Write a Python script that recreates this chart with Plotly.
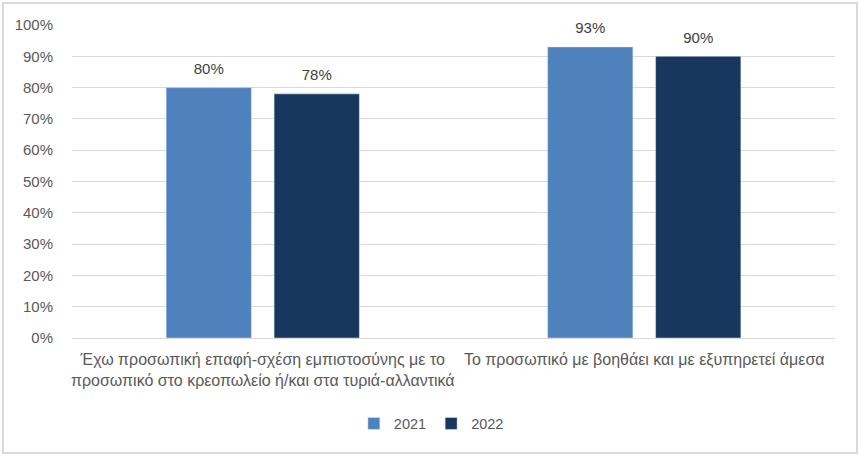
import plotly.graph_objects as go

categories = [
    "Έχω προσωπική επαφή-σχέση εμπιστοσύνης με το<br>προσωπικό στο κρεοπωλείο ή/και στα τυριά-αλλαντικά",
    "Το προσωπικό με βοηθάει και με εξυπηρετεί άμεσα",
]
series_names = ["2021", "2022"]
values_2021 = [0.80, 0.93]
values_2022 = [0.78, 0.90]
colors = ["#4F81BD", "#17375E"]

FONT = "Liberation Sans, Arial, sans-serif"
TXT = "#595959"
BARGAP = 0.434

fig = go.Figure()
for name, vals, col in zip(series_names, [values_2021, values_2022], colors):
    fig.add_trace(go.Bar(
        x=categories, y=vals, name=name, marker_color=col,
        offsetgroup=name,
    ))
for name, vals in zip(series_names, [values_2021, values_2022]):
    fig.add_trace(go.Scatter(
        x=categories, y=vals, mode="markers+text", showlegend=False, hoverinfo="skip",
        text=[f"{v:.0%}" for v in vals], textposition="top center",
        textfont=dict(family=FONT, size=15, color="#404040"),
        marker=dict(size=14, opacity=0), offsetgroup=name, cliponaxis=False,
    ))

fig.update_layout(
    width=860, height=456,
    margin=dict(l=72, r=25, t=25, b=118),
    paper_bgcolor="white", plot_bgcolor="white",
    barmode="group", bargap=BARGAP, bargroupgap=0.21,
    scattermode="group", scattergap=BARGAP,
    font=dict(family=FONT, size=15, color=TXT),
    legend=dict(orientation="h", x=0.471, xanchor="center", y=-0.222, yanchor="top",
                font=dict(family=FONT, size=14.5, color=TXT),
                itemwidth=30, traceorder="normal"),
    xaxis=dict(showline=False, ticks="", ticklabelstandoff=10,
               tickfont=dict(family=FONT, size=16, color=TXT)),
    yaxis=dict(range=[0, 1], dtick=0.1, tickformat=".0%", gridcolor="#D9D9D9",
               gridwidth=1, zeroline=True, zerolinecolor="#D9D9D9", zerolinewidth=1,
               ticks="", ticklabelstandoff=18,
               tickfont=dict(family=FONT, size=15, color=TXT)),
    shapes=[dict(type="rect", xref="paper", yref="paper",
                 x0=-69/763, x1=1+22/763, y0=-115/313, y1=1+22/313,
                 line=dict(color="#D9D9D9", width=2), fillcolor="rgba(0,0,0,0)")],
)

fig.write_html("out.html", config={"displayModeBar": False},
               post_script="document.body.style.margin='0';")
